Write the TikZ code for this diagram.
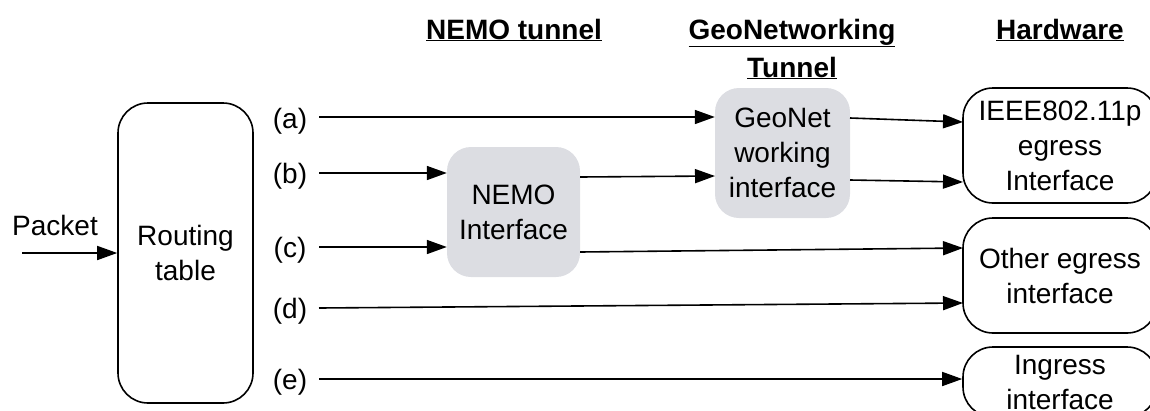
\documentclass[tikz,border=0pt]{standalone}
\usepackage{fontspec}
\setmainfont{Liberation Sans}
\usetikzlibrary{arrows.meta}
\definecolor{boxgray}{RGB}{220,221,226}
\tikzset{
  base/.style={font=\fontsize{28}{35}\selectfont, align=center, inner sep=0pt},
  rbox/.style={base, draw=black, line width=1.6pt, rounded corners=30pt},
  gbox/.style={base, fill=boxgray, rounded corners=24pt},
  lbl/.style={base},
  hdr/.style={base, font=\fontsize{28}{38}\selectfont\bfseries},
  conn/.style={line width=1.6pt, -{Triangle[length=20pt,width=14pt]}}
}
\begin{document}
\begin{tikzpicture}[x=1pt,y=-1pt]
\useasboundingbox (0,0) rectangle (1150,410);
% boxes
\node[rbox, minimum width=135pt, minimum height=300pt] (rt) at (185.5,253) {Routing\\table};
\node[gbox, minimum width=133pt, minimum height=130pt] (nemo) at (513.5,212) {NEMO\\Interface};
\node[gbox, minimum width=135pt, minimum height=130pt] (geo) at (782.5,153) {GeoNet\\working\\interface};
\node[rbox, minimum width=194pt, minimum height=115pt] (ieee) at (1060,145.5) {IEEE802.11p\\egress\\Interface};
\node[rbox, minimum width=194pt, minimum height=115pt] (other) at (1060,275.5) {Other egress\\interface};
\node[rbox, minimum width=194pt, minimum height=70pt] (ingr) at (1060,382) {Ingress\\interface};
% headers
\node[hdr] (h1) at (514,30) {\underline{NEMO tunnel}};
\node[hdr] (h2) at (792,49) {\underline{GeoNetworking}\\\underline{Tunnel}};
\node[hdr] (h3) at (1060,30) {\underline{Hardware}};
% labels
\node[lbl] (pk) at (55,225) {Packet};
\node[lbl] (la) at (290,121) {(a)};
\node[lbl] (lb) at (290,176) {(b)};
\node[lbl] (lc) at (290,250) {(c)};
\node[lbl] (ld) at (290,311) {(d)};
\node[lbl] (le) at (290,382) {(e)};
% start coordinates
\coordinate (p0) at (22,253);
\coordinate (sa) at (319,117);
\coordinate (sb) at (319,173);
\coordinate (sc) at (319,247);
\coordinate (sd) at (319,308);
\coordinate (se) at (319,379);
\coordinate (n1) at (580,177);
\coordinate (n2) at (580,252);
\coordinate (g1) at (850,118);
\coordinate (g2) at (850,180);
\coordinate (geoin2) at (715,176);
\coordinate (ie1) at (963,122);
\coordinate (ie2) at (963,182);
\coordinate (ot1) at (963,248);
\coordinate (ot2) at (963,303);
% connectors
\draw[conn] (p0) -- (rt.west |- p0);
\draw[conn] (sa) -- (geo.west |- sa);
\draw[conn] (sb) -- (nemo.west |- sb);
\draw[conn] (sc) -- (nemo.west |- sc);
\draw[conn] (n1) -- (geoin2);
\draw[conn] (n2) -- (ot1);
\draw[conn] (g1) -- (ie1);
\draw[conn] (g2) -- (ie2);
\draw[conn] (sd) -- (ot2);
\draw[conn] (se) -- (ingr.west |- se);
\end{tikzpicture}
\end{document}
